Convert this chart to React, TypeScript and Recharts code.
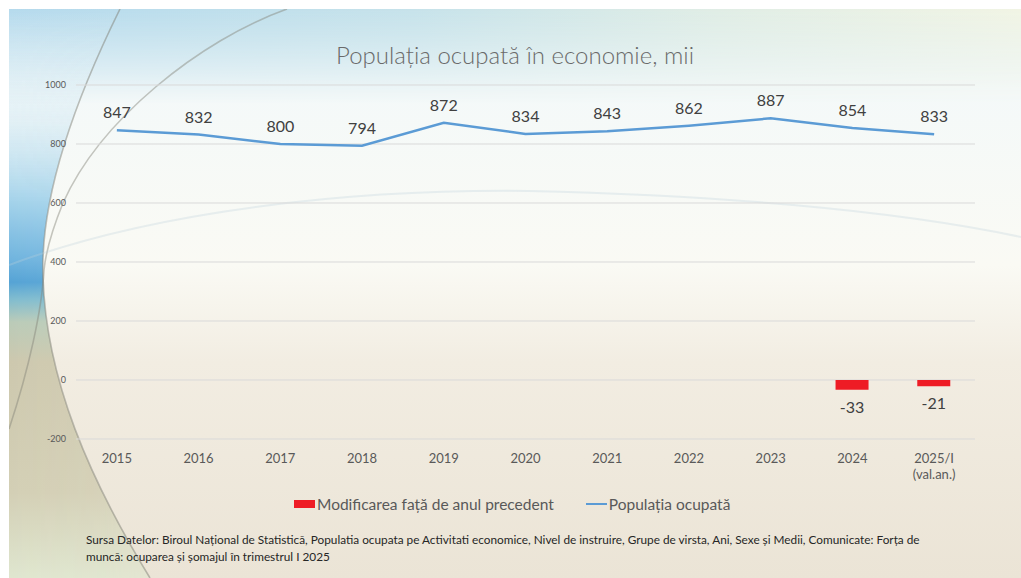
import {
  ComposedChart,
  Bar,
  Line,
  XAxis,
  YAxis,
  CartesianGrid,
  LabelList,
} from "recharts";

const categories = [
  "2015",
  "2016",
  "2017",
  "2018",
  "2019",
  "2020",
  "2021",
  "2022",
  "2023",
  "2024",
  "2025/I\n(val.an.)",
];
const employed = [847, 832, 800, 794, 872, 834, 843, 862, 887, 854, 833];
const changeVsPrev: (number | null)[] = [null, null, null, null, null, null, null, null, null, -33, -21];
const yTicks = [-200, 0, 200, 400, 600, 800, 1000];

const data = categories.map((year, i) => ({
  year,
  employed: employed[i],
  change: changeVsPrev[i],
}));

const FONT = "Lato, 'Open Sans', sans-serif";
const LINE_COLOR = "#5b9bd5";
const BAR_COLOR = "#ee1c25";

// decorative arc on the left of the slide background
const ARC_A = "M111,0 C71,81 31,181 34,268 C37,371 81,471 141,569";

function YearTick({ x, y, payload }: any) {
  const lines = String(payload.value).split("\n");
  return (
    <text x={x} y={y} textAnchor="middle" fill="#595959" fontSize={13} fontFamily={FONT}>
      {lines.map((l, i) => (
        <tspan key={i} x={x} dy={16}>
          {l}
        </tspan>
      ))}
    </text>
  );
}

function BarValue({ x, y, width, height, value }: any) {
  if (value == null) return null;
  const bottom = Math.max(y, y + height);
  return (
    <text
      x={x + width / 2}
      y={bottom + 23}
      textAnchor="middle"
      fill="#404040"
      fontSize={16}
      fontFamily={FONT}
    >
      {value}
    </text>
  );
}

function Backdrop() {
  return (
    <svg width={1012} height={569} style={{ position: "absolute", left: 9, top: 9 }}>
      <defs>
        <linearGradient id="base" x1="0" y1="0" x2="0" y2="1">
          <stop offset="0%" stopColor="#e4f1f5" />
          <stop offset="14%" stopColor="#f4f9f9" />
          <stop offset="45%" stopColor="#fafaf4" />
          <stop offset="62%" stopColor="#f2ede2" />
          <stop offset="100%" stopColor="#ebe4d6" />
        </linearGradient>
        <linearGradient id="topBand" x1="0" y1="0" x2="1" y2="0">
          <stop offset="0%" stopColor="#b5daed" />
          <stop offset="40%" stopColor="#c6e2ea" />
          <stop offset="70%" stopColor="#e0ede5" />
          <stop offset="100%" stopColor="#f1f4e4" />
        </linearGradient>
        <linearGradient id="fadeDown" x1="0" y1="0" x2="0" y2="1">
          <stop offset="0%" stopColor="#fff" stopOpacity={1} />
          <stop offset="100%" stopColor="#fff" stopOpacity={0} />
        </linearGradient>
        <mask id="topMask">
          <rect x={0} y={0} width={1012} height={95} fill="url(#fadeDown)" />
        </mask>
        <linearGradient id="leftStrip" x1="0" y1="0" x2="0" y2="1">
          <stop offset="0%" stopColor="#e6f2f6" stopOpacity={0} />
          <stop offset="20%" stopColor="#d3e9f3" stopOpacity={0.6} />
          <stop offset="34%" stopColor="#a3d2ea" />
          <stop offset="44%" stopColor="#70b4de" />
          <stop offset="48%" stopColor="#55a3d5" />
          <stop offset="51%" stopColor="#80bccf" />
          <stop offset="55%" stopColor="#bacbb8" />
          <stop offset="62%" stopColor="#cdc8ae" />
          <stop offset="85%" stopColor="#d3cfb5" />
          <stop offset="100%" stopColor="#dfe6cf" />
        </linearGradient>
        <linearGradient id="leftFade" x1="0" y1="0" x2="1" y2="0">
          <stop offset="0%" stopColor="#fff" stopOpacity={1} />
          <stop offset="60%" stopColor="#fff" stopOpacity={0.9} />
          <stop offset="100%" stopColor="#fff" stopOpacity={0.5} />
        </linearGradient>
        <mask id="leftMask">
          <rect x={0} y={0} width={160} height={569} fill="url(#leftFade)" />
        </mask>
        <clipPath id="leftOfArc">
          <path d={`${ARC_A} L0,569 L0,0 Z`} />
        </clipPath>
      </defs>
      <rect x={0} y={0} width={1012} height={569} fill="url(#base)" />
      <rect x={0} y={0} width={1012} height={95} fill="url(#topBand)" mask="url(#topMask)" />
      <g clipPath="url(#leftOfArc)">
        <rect x={0} y={0} width={160} height={569} fill="url(#leftStrip)" mask="url(#leftMask)" />
      </g>
      <path d={ARC_A} fill="none" stroke="rgba(130,130,120,0.5)" strokeWidth={1.6} />
      <path
        d="M278,0 C191,31 91,111 54,194 C43,221 37,241 35,261 C33,300 20,360 0,420"
        fill="none"
        stroke="rgba(130,130,120,0.45)"
        strokeWidth={1.6}
      />
      <path
        d="M0,256 C150,200 350,180 520,182 C700,186 880,200 1012,228"
        fill="none"
        stroke="rgba(190,210,220,0.3)"
        strokeWidth={2}
      />
    </svg>
  );
}

export default function App() {
  return (
    <div
      style={{
        position: "absolute",
        left: 0,
        top: 0,
        width: 1021,
        height: 578,
        background: "#fff",
        fontFamily: FONT,
        overflow: "hidden",
      }}
    >
      <Backdrop />
      <div
        style={{
          position: "absolute",
          top: 40,
          left: 0,
          width: 1030,
          textAlign: "center",
          fontSize: 24,
          color: "#6a6a6a",
          fontWeight: 300,
        }}
      >
        Populația ocupată în economie, mii
      </div>
      <div style={{ position: "absolute", left: 0, top: 0 }}>
        <ComposedChart
          width={1021}
          height={578}
          data={data}
          margin={{ top: 85, right: 46, bottom: 109, left: 0 }}
        >
          <CartesianGrid vertical={false} stroke="#d9d9d9" />
          <XAxis
            dataKey="year"
            height={30}
            axisLine={false}
            tickLine={false}
            interval={0}
            tick={<YearTick />}
          />
          <YAxis
            width={76}
            domain={[-200, 1000]}
            ticks={yTicks}
            axisLine={false}
            tickLine={false}
            tickMargin={4}
            tick={{ fontSize: 9, fill: "#595959", fontFamily: FONT }}
          />
          <Bar dataKey="change" fill={BAR_COLOR} barSize={33} isAnimationActive={false}>
            <LabelList dataKey="change" content={<BarValue />} />
          </Bar>
          <Line
            dataKey="employed"
            type="linear"
            stroke={LINE_COLOR}
            strokeWidth={2.5}
            dot={false}
            isAnimationActive={false}
          >
            <LabelList
              dataKey="employed"
              position="top"
              offset={12}
              fill="#404040"
              fontSize={16}
              fontFamily={FONT}
            />
          </Line>
        </ComposedChart>
      </div>
      <div
        style={{
          position: "absolute",
          top: 495,
          left: 294,
          display: "flex",
          alignItems: "center",
          fontSize: 15.5,
          color: "#595959",
          whiteSpace: "nowrap",
        }}
      >
        <span style={{ display: "inline-block", width: 21, height: 8, background: BAR_COLOR }} />
        <span style={{ marginLeft: 2 }}>Modificarea față de anul precedent</span>
        <span
          style={{
            display: "inline-block",
            width: 21,
            height: 2.5,
            background: LINE_COLOR,
            marginLeft: 32,
          }}
        />
        <span style={{ marginLeft: 2 }}>Populația ocupată</span>
      </div>
      <div
        style={{
          position: "absolute",
          top: 531,
          left: 86,
          fontSize: 11.8,
          lineHeight: "17px",
          color: "#262626",
          whiteSpace: "nowrap",
        }}
      >
        Sursa Datelor: Biroul Național de Statistică, Populatia ocupata pe Activitati economice, Nivel de
        instruire, Grupe de virsta, Ani, Sexe și Medii, Comunicate: Forța de
        <br />
        muncă: ocuparea și șomajul în trimestrul I 2025
      </div>
    </div>
  );
}
